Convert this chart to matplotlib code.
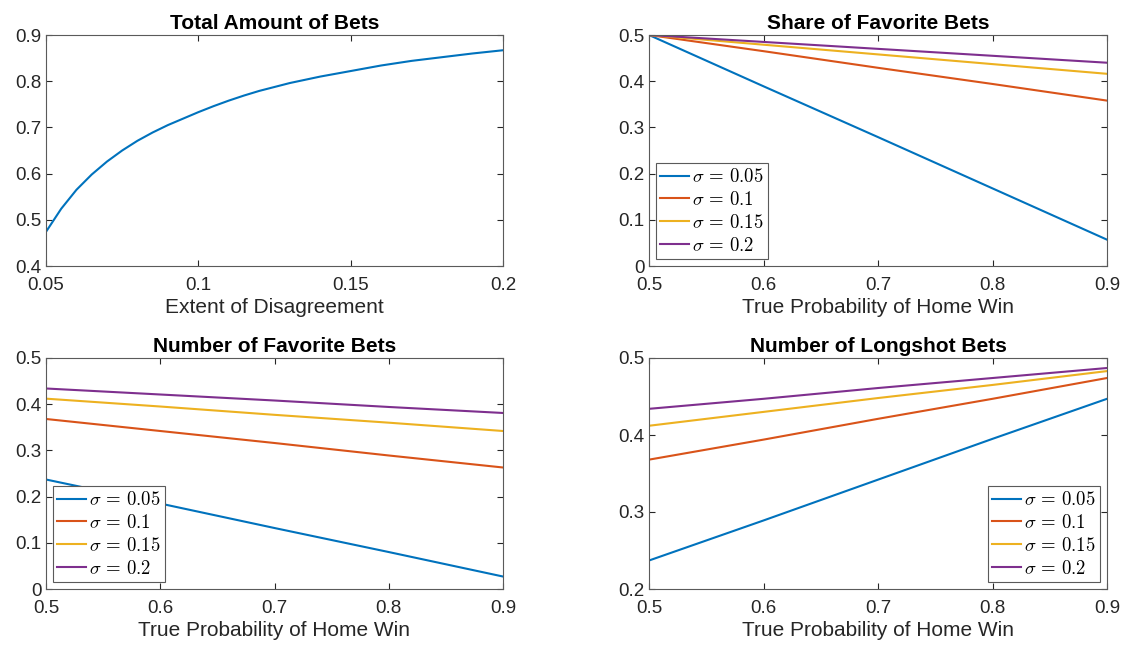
import matplotlib
matplotlib.use("Agg")
import matplotlib.pyplot as plt

# MATLAB-ish look
plt.rcParams['font.family'] = ['Liberation Sans', 'DejaVu Sans']
plt.rcParams['mathtext.fontset'] = 'cm'

# total amount of bets vs extent of disagreement
disagreement = [0.05, 0.055, 0.06, 0.065, 0.07, 0.075, 0.08, 0.085, 0.09, 0.095,
                0.1, 0.105, 0.11, 0.115, 0.12, 0.13, 0.14, 0.15, 0.16, 0.17,
                0.18, 0.19, 0.2]
total_bets = [0.474, 0.524, 0.565, 0.598, 0.626, 0.650, 0.671, 0.689, 0.705, 0.719,
              0.733, 0.746, 0.758, 0.769, 0.779, 0.796, 0.810, 0.822, 0.834, 0.844,
              0.852, 0.860, 0.867]

# true probability of home win
prob_home = [0.5, 0.6, 0.7, 0.8, 0.9]
sigma_labels = [r'$\sigma\,=\,0.05$', r'$\sigma\,=\,0.1$', r'$\sigma\,=\,0.15$', r'$\sigma\,=\,0.2$']

share_favorite = [
    [0.500, 0.389, 0.279, 0.168, 0.057],
    [0.500, 0.465, 0.429, 0.394, 0.358],
    [0.500, 0.479, 0.458, 0.437, 0.416],
    [0.500, 0.485, 0.470, 0.455, 0.440],
]

num_favorite = [
    [0.237, 0.185, 0.132, 0.080, 0.027],
    [0.368, 0.342, 0.316, 0.289, 0.263],
    [0.412, 0.395, 0.377, 0.360, 0.342],
    [0.434, 0.421, 0.408, 0.394, 0.381],
]

num_longshot = [
    [0.237, 0.289, 0.342, 0.395, 0.447],
    [0.368, 0.394, 0.421, 0.447, 0.474],
    [0.412, 0.430, 0.448, 0.465, 0.483],
    [0.434, 0.447, 0.461, 0.474, 0.487],
]

colors = ['#0072BD', '#D95319', '#EDB120', '#7E2F8E']
axis_color = '#262626'
W, H = 1133, 651


def box(left, top, right, bottom):
    return [left / W, 1 - bottom / H, (right - left) / W, (bottom - top) / H]


def style_axes(ax, title, xlabel):
    ax.set_title(title, fontsize=15, fontweight='bold', pad=4)
    ax.set_xlabel(xlabel, fontsize=15, color=axis_color, labelpad=3)
    ax.tick_params(direction='in', top=True, right=True, labelsize=13.5,
                   colors=axis_color, length=4)
    ax.tick_params(axis='x', pad=8)
    ax.tick_params(axis='y', pad=3)
    for sp in ax.spines.values():
        sp.set_color('#5a5a5a')
        sp.set_linewidth(0.8)


def add_legend(ax, loc):
    leg = ax.legend(loc=loc, prop={'size': 13.5}, fancybox=False, framealpha=1,
                    edgecolor='#5a5a5a', handlelength=1.55, handletextpad=0.15,
                    borderpad=0.25, labelspacing=0.26, borderaxespad=0.35)
    leg.get_frame().set_linewidth(0.8)


fig = plt.figure(figsize=(11.33, 6.51), dpi=100)

# top left
ax1 = fig.add_axes(box(46, 35, 503, 266))
ax1.plot(disagreement, total_bets, color=colors[0], lw=1.5)
ax1.set_xlim(0.05, 0.2)
ax1.set_ylim(0.4, 0.9)
ax1.set_xticks([0.05, 0.1, 0.15, 0.2])
ax1.set_xticklabels(['0.05', '0.1', '0.15', '0.2'])
ax1.set_yticks([0.4, 0.5, 0.6, 0.7, 0.8, 0.9])
style_axes(ax1, 'Total Amount of Bets', 'Extent of Disagreement')

# top right
ax2 = fig.add_axes(box(649, 35, 1107, 266))
for i in range(4):
    ax2.plot(prob_home, share_favorite[i], color=colors[i], lw=1.5, label=sigma_labels[i])
ax2.set_xlim(0.5, 0.9)
ax2.set_ylim(0, 0.5)
ax2.set_xticks([0.5, 0.6, 0.7, 0.8, 0.9])
ax2.set_yticks([0, 0.1, 0.2, 0.3, 0.4, 0.5])
ax2.set_yticklabels(['0', '0.1', '0.2', '0.3', '0.4', '0.5'])
style_axes(ax2, 'Share of Favorite Bets', 'True Probability of Home Win')
add_legend(ax2, 'lower left')

# bottom left
ax3 = fig.add_axes(box(46, 358, 503, 589))
for i in range(4):
    ax3.plot(prob_home, num_favorite[i], color=colors[i], lw=1.5, label=sigma_labels[i])
ax3.set_xlim(0.5, 0.9)
ax3.set_ylim(0, 0.5)
ax3.set_xticks([0.5, 0.6, 0.7, 0.8, 0.9])
ax3.set_yticks([0, 0.1, 0.2, 0.3, 0.4, 0.5])
ax3.set_yticklabels(['0', '0.1', '0.2', '0.3', '0.4', '0.5'])
style_axes(ax3, 'Number of Favorite Bets', 'True Probability of Home Win')
add_legend(ax3, 'lower left')

# bottom right
ax4 = fig.add_axes(box(649, 358, 1107, 589))
for i in range(4):
    ax4.plot(prob_home, num_longshot[i], color=colors[i], lw=1.5, label=sigma_labels[i])
ax4.set_xlim(0.5, 0.9)
ax4.set_ylim(0.2, 0.5)
ax4.set_xticks([0.5, 0.6, 0.7, 0.8, 0.9])
ax4.set_yticks([0.2, 0.3, 0.4, 0.5])
style_axes(ax4, 'Number of Longshot Bets', 'True Probability of Home Win')
add_legend(ax4, 'lower right')

fig.savefig('out.png', dpi=100, facecolor='white')
